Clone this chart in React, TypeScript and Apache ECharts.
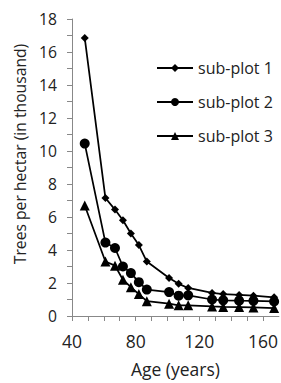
import React, { useEffect, useRef } from "react";
import * as echarts from "echarts";

const ages = [48, 61, 67, 72, 77, 82, 87, 101, 107, 113, 128, 135, 145, 154, 167];
const subPlot1 = [16.85, 7.15, 6.45, 5.8, 5.0, 4.3, 3.3, 2.3, 1.95, 1.7, 1.4, 1.33, 1.28, 1.23, 1.13];
const subPlot2 = [10.45, 4.45, 4.12, 3.0, 2.6, 2.05, 1.6, 1.45, 1.23, 1.25, 1.0, 0.95, 0.93, 0.92, 0.88];
const subPlot3 = [6.7, 3.3, 3.05, 2.2, 1.75, 1.33, 0.9, 0.75, 0.65, 0.65, 0.58, 0.55, 0.54, 0.52, 0.48];
const seriesNames = ["sub-plot 1", "sub-plot 2", "sub-plot 3"];
const symbols = ["diamond", "circle", "triangle"];
const symbolSizes = [8, 10, 10];

const FONT = "Open Sans";

export default function App() {
  const ref = useRef<HTMLDivElement>(null);
  useEffect(() => {
    if (!ref.current) return;
    const chart = echarts.init(ref.current, undefined, { renderer: "svg" });
    const all = [subPlot1, subPlot2, subPlot3];
    chart.setOption({
      animation: false,
      backgroundColor: "#ffffff",
      textStyle: { fontFamily: FONT },
      grid: { left: 72, top: 19, bottom: 65, right: -2, containLabel: false },
      legend: {
        orient: "vertical",
        left: 151,
        top: 55,
        itemWidth: 36,
        itemHeight: 10,
        itemGap: 18,
        textStyle: { fontSize: 16, color: "#222", fontFamily: FONT },
        data: seriesNames,
      },
      xAxis: {
        type: "value",
        min: 40,
        max: 170,
        interval: 10,
        name: "Age (years)",
        nameLocation: "middle",
        nameGap: 44,
        nameTextStyle: { fontSize: 17.5, color: "#222", fontFamily: FONT },
        axisLine: { show: true, lineStyle: { color: "#888", width: 1 } },
        axisTick: { show: true, length: 5, lineStyle: { color: "#888" } },
        axisLabel: {
          fontSize: 17.5,
          color: "#222",
          margin: 16,
          showMaxLabel: false,
          formatter: (v: number) => (v % 40 === 0 ? String(v) : ""),
        },
        splitLine: { show: false },
      },
      yAxis: {
        type: "value",
        min: 0,
        max: 18,
        interval: 1,
        name: "Trees per hectar (in thousand)",
        nameLocation: "middle",
        nameGap: 43,
        nameTextStyle: {
          fontSize: 15.7,
          color: "#222",
          fontFamily: FONT,
          padding: [0, 0, 0, 27],
        },
        axisLine: { show: true, lineStyle: { color: "#888", width: 1 } },
        axisTick: { show: true, length: 5, lineStyle: { color: "#888" } },
        axisLabel: {
          fontSize: 15.7,
          color: "#222",
          margin: 15,
          formatter: (v: number) => (v % 2 === 0 ? String(v) : ""),
        },
        splitLine: { show: false },
      },
      series: all.map((vals, i) => ({
        name: seriesNames[i],
        type: "line",
        data: ages.map((a, j) => [a, vals[j]]),
        symbol: symbols[i],
        symbolSize: symbolSizes[i],
        showAllSymbol: true,
        lineStyle: { color: "#000", width: 1.75 },
        itemStyle: { color: "#000" },
      })),
    });
    return () => chart.dispose();
  }, []);
  return (
    <div
      ref={ref}
      style={{ position: "fixed", left: 0, top: 0, width: 281, height: 383 }}
    />
  );
}
